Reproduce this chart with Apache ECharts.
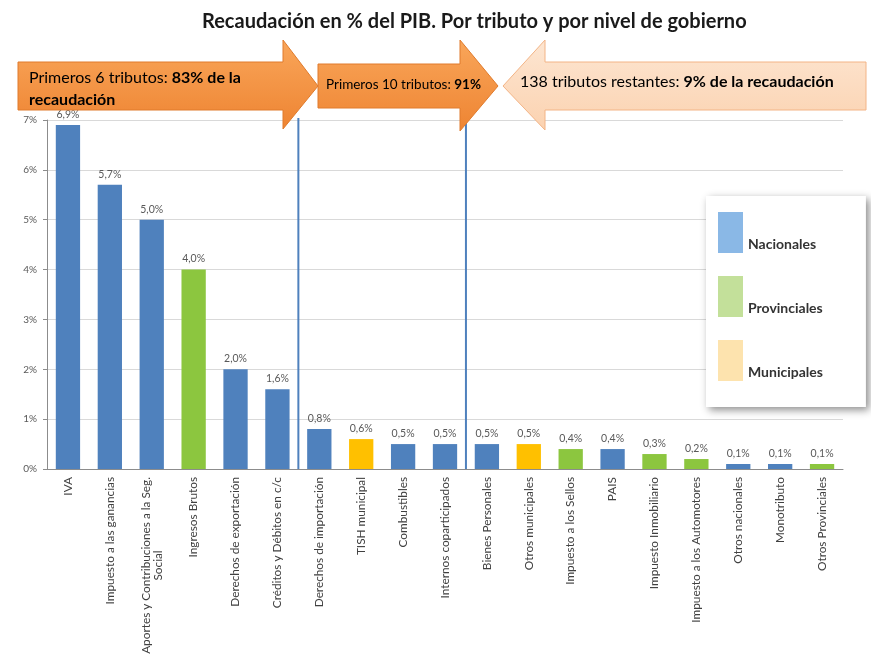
<!DOCTYPE html>
<html>
<head>
    <meta charset="utf-8">
    <title>Recaudación en % del PIB</title>
    <script src="https://cdn.jsdelivr.net/npm/echarts@6/dist/echarts.min.js"></script>
    <style>
        html, body { margin: 0; padding: 0; background: #fff; }
    </style>
</head>
<body>
    <div id="chart" style="width: 871px; height: 659px;"></div>
    <script>
        // data
        var categories = [
            'IVA', 'Impuesto a las ganancias', 'Aportes y Contribuciones a la Seg.\nSocial',
            'Ingresos Brutos', 'Derechos de exportación', 'Créditos y Débitos en c/c',
            'Derechos de importación', 'TISH municipal', 'Combustibles', 'Internos coparticipados',
            'Bienes Personales', 'Otros municipales', 'Impuesto a los Sellos', 'PAIS',
            'Impuesto Inmobiliario', 'Impuesto a los Automotores', 'Otros nacionales',
            'Monotributo', 'Otros Provinciales'
        ];
        var values = [6.9, 5.7, 5.0, 4.0, 2.0, 1.6, 0.8, 0.6, 0.5, 0.5, 0.5, 0.5, 0.4, 0.4, 0.3, 0.2, 0.1, 0.1, 0.1];
        // N = nacional, P = provincial, M = municipal
        var levels = ['N', 'N', 'N', 'P', 'N', 'N', 'N', 'M', 'N', 'N', 'N', 'M', 'P', 'N', 'P', 'P', 'N', 'N', 'P'];
        var levelNames = { N: 'Nacionales', P: 'Provinciales', M: 'Municipales' };
        var yTicks = [0, 1, 2, 3, 4, 5, 6, 7];

        var barColors = { N: '#4f81bd', P: '#8cc63f', M: '#ffc000' };
        var legendColors = { N: '#8ab8e6', P: '#c3e09a', M: '#fde3ae' };

        var chart = echarts.init(document.querySelector('#chart'));
        var font = 'Lato';

        function seriesFor(code) {
            return {
                name: levelNames[code],
                type: 'bar',
                stack: 'total',
                barWidth: '58%',
                itemStyle: { color: barColors[code] },
                label: {
                    show: true,
                    position: 'top',
                    fontFamily: font,
                    fontSize: 10.5,
                    color: '#595959',
                    formatter: function (p) { return p.value.toFixed(1).replace('.', ',') + '%'; }
                },
                data: values.map(function (v, i) { return levels[i] === code ? v : '-'; })
            };
        }

        var option = {
            animation: false,
            backgroundColor: '#fff',
            title: {
                text: 'Recaudación en % del PIB. Por tributo y por nivel de gobierno',
                left: 197,
                top: 7,
                textStyle: { fontFamily: font, fontSize: 20, fontWeight: 'bold', color: '#1a1a1a' }
            },
            grid: { left: 47, right: 28, top: 120, bottom: 190, containLabel: false },
            legend: {
                orient: 'vertical',
                left: 706,
                top: 196,
                itemWidth: 25,
                itemHeight: 41,
                itemGap: 23,
                padding: [16, 43, 26, 12],
                backgroundColor: '#fff',
                shadowColor: 'rgba(0,0,0,0.45)',
                shadowBlur: 8,
                shadowOffsetX: 3,
                shadowOffsetY: 3,
                icon: 'rect',
                formatter: function (name) { return '{t|' + name + '}'; },
                textStyle: {
                    rich: { t: { fontFamily: font, fontSize: 14, fontWeight: 'bold', color: '#333', padding: [24, 0, 0, 0] } }
                },
                data: ['N', 'P', 'M'].map(function (c) {
                    return { name: levelNames[c], itemStyle: { color: legendColors[c] } };
                })
            },
            xAxis: {
                type: 'category',
                data: categories,
                axisLine: { lineStyle: { color: '#8c8c8c' } },
                axisTick: { length: 5, lineStyle: { color: '#8c8c8c' } },
                axisLabel: {
                    rotate: 90,
                    interval: 0,
                    margin: 8,
                    formatter: function (v) {
                        return v.split('\n').map(function (s) { return '{c|' + s + '}'; }).join('\n');
                    },
                    rich: { c: { align: 'center', fontFamily: font, fontSize: 11.8, color: '#404040' } }
                }
            },
            yAxis: {
                type: 'value',
                min: yTicks[0],
                max: yTicks[yTicks.length - 1],
                interval: 1,
                axisLine: { show: true, lineStyle: { color: '#8c8c8c' } },
                axisTick: { show: true, length: 4, lineStyle: { color: '#8c8c8c' } },
                axisLabel: { formatter: '{value}%', fontFamily: font, fontSize: 10, color: '#595959', margin: 10 },
                splitLine: { lineStyle: { color: '#d9d9d9' } }
            },
            series: [seriesFor('N'), seriesFor('P'), seriesFor('M')]
        };
        chart.setOption(option);

        // separators between groups of taxes, placed through the axis scale
        function sepX(i) {
            return (chart.convertToPixel({ xAxisIndex: 0 }, i) + chart.convertToPixel({ xAxisIndex: 0 }, i + 1)) / 2;
        }
        var yTop = chart.convertToPixel({ yAxisIndex: 0 }, 7) - 2;
        var yBot = chart.convertToPixel({ yAxisIndex: 0 }, 0);

        var darkArrow = new echarts.graphic.LinearGradient(0, 0, 0, 1, [
            { offset: 0, color: '#f9a65a' }, { offset: 1, color: '#ee8432' }
        ]);
        var lightArrow = new echarts.graphic.LinearGradient(0, 0, 0, 1, [
            { offset: 0, color: '#fde6d2' }, { offset: 1, color: '#fbd2b0' }
        ]);
        var rich = {
            b: { fontFamily: font, fontWeight: 'bold', fontSize: 16, color: '#1a1a1a' },
            n: { fontFamily: font, fontSize: 16, color: '#1a1a1a' },
            bs: { fontFamily: font, fontWeight: 'bold', fontSize: 13.5, color: '#1a1a1a' },
            ns: { fontFamily: font, fontSize: 13.5, color: '#1a1a1a' }
        };

        chart.setOption({
            graphic: [
                { type: 'line', z: 5, shape: { x1: sepX(5), y1: yTop, x2: sepX(5), y2: yBot }, style: { stroke: '#4f81bd', lineWidth: 2 } },
                { type: 'line', z: 5, shape: { x1: sepX(9), y1: yTop, x2: sepX(9), y2: yBot }, style: { stroke: '#4f81bd', lineWidth: 2 } },
                {
                    type: 'polygon', z: 10,
                    shape: { points: [[18, 62], [283, 62], [283, 40], [318, 86], [283, 129], [283, 110], [18, 110]] },
                    style: { fill: darkArrow, stroke: '#e07b2c', lineWidth: 1 }
                },
                {
                    type: 'polygon', z: 10,
                    shape: { points: [[318, 64], [460, 64], [460, 40], [498, 86], [460, 131], [460, 108], [318, 108]] },
                    style: { fill: darkArrow, stroke: '#e07b2c', lineWidth: 1 }
                },
                {
                    type: 'polygon', z: 10,
                    shape: { points: [[503, 86], [545, 40], [545, 62], [866, 62], [866, 110], [545, 110], [545, 130]] },
                    style: { fill: lightArrow, stroke: '#f3b486', lineWidth: 1 }
                },
                {
                    type: 'text', z: 11, left: 29, top: 67,
                    style: { text: '{n|Primeros 6 tributos: }{b|83% de la}\n{b|recaudación}', rich: rich, lineHeight: 22 }
                },
                {
                    type: 'text', z: 11, left: 326, top: 78,
                    style: { text: '{ns|Primeros 10 tributos: }{bs|91%}', rich: rich }
                },
                {
                    type: 'text', z: 11, left: 520, top: 74,
                    style: { text: '{n|138 tributos restantes: }{b|9% de la recaudación}', rich: rich }
                }
            ]
        });
    </script>
</body>
</html>
